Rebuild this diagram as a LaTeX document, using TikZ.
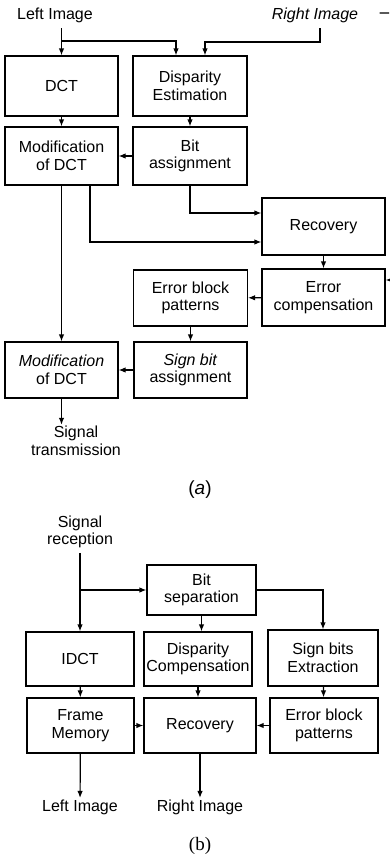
\documentclass[tikz,border=0pt]{standalone}
\usepackage{fontspec}
\setmainfont{Liberation Sans}
\newfontfamily\serfont{Liberation Serif}
\usetikzlibrary{arrows.meta}
\tikzset{block/.style = {draw, fill=white, line width=1.2bp, rectangle, align=center, inner sep=0pt, minimum height=57bp, minimum width=113bp},
         txt/.style = {align=center, inner sep=1bp},
         captxt/.style = {inner sep=1bp, font=\fontsize{19bp}{21bp}\selectfont},
         >={Latex[length=7bp,width=5.5bp]}}

\begin{document}
\begin{tikzpicture}[x=1bp,y=-1bp,line width=1.2bp,font=\fontsize{16bp}{17.5bp}\selectfont]
        \useasboundingbox (0,0) rectangle (389,856);

        % (a) coder
        \node[txt] (lefti) at (55,15) {Left Image};
        \node[txt] (righti) at (315,15) {\textit{Right Image}};
        \coordinate (rcut) at (389,13);

        \node[block, minimum height=60bp] (dct) at (61.5,86) {DCT};
        \node[block, minimum width=114bp, minimum height=60bp] (dispest) at (190,86) {Disparity\\Estimation};
        \node[block, minimum height=58bp] (mod1) at (61.5,156) {Modification\\of DCT};
        \node[block, minimum width=114bp, minimum height=58bp] (bit) at (190,156) {Bit\\assignment};
        \node[block, minimum width=123bp] (rec) at (323.5,226.5) {Recovery};
        \node[block, minimum width=123bp] (errc) at (323.5,297.5) {Error\\compensation};
        \node[block, minimum width=114bp, minimum height=56bp] (ebp) at (190.5,298) {Error block\\patterns};
        \node[block, minimum height=56bp] (sba) at (190.5,370) {\textit{Sign bit}\\assignment};
        \node[block, minimum height=56bp] (mod2) at (61.5,370) {\textit{Modification}\\of DCT};
        \node[txt] (tx) at (76,441) {Signal\\transmission};
        \coordinate (ecut) at (389,280);
        \coordinate (br1) at (61.5,41);

        \draw ([yshift=-4bp]lefti.south -| dct.north) -- (br1);
        \draw[->] (br1) -- (dct);
        \draw[->] (br1) -| ([xshift=-14bp]dispest.north);
        \draw[->] ([xshift=5bp,yshift=-4bp]righti.south) -- ++(0,14) -| ([xshift=15bp]dispest.north);
        \draw ([xshift=20bp,yshift=2bp]righti.east) -- (rcut);
        \draw[->] (dct) -- (mod1);
        \draw[->] (dispest) -- (bit);
        \draw[->] (bit) -- (mod1);
        \draw[->] (mod1) -- (mod2);
        \draw[->] ([xshift=28.5bp]mod1.south) |- ([yshift=-15.5bp]rec.west);
        \draw[->] (bit) |- ([yshift=13.5bp]rec.west);
        \draw[->] (rec) -- (errc);
        \draw[->] (ecut) -- (errc.east |- ecut);
        \draw[->] (errc) -- (ebp);
        \draw[->] (ebp) -- (sba);
        \draw[->] (sba) -- (mod2);
        \draw[->] (mod2) -- (mod2.south |- tx.north);

        \node[captxt] (capa) at (200,490) {(\textit{a})};

        % (b) decoder
        \node[txt] (rx) at (80,532) {Signal\\reception};
        \node[block, minimum width=109bp, minimum height=50bp] (bitsep) at (201.5,590) {Bit\\separation};
        \node[block, minimum width=108bp, minimum height=54bp] (idct) at (80,659) {IDCT};
        \node[block, minimum width=108bp, minimum height=54bp] (dcomp) at (198,659) {Disparity\\Compensation};
        \node[block, minimum width=110bp, minimum height=56bp] (sbe) at (323,658) {Sign bits\\Extraction};
        \node[block, minimum width=107bp, minimum height=55bp] (fm) at (80.5,725.5) {Frame\\Memory};
        \node[block, minimum width=112bp, minimum height=55bp] (rec2) at (200,725.5) {Recovery};
        \node[block, minimum width=108bp, minimum height=55bp] (ebp2) at (324,725.5) {Error block\\patterns};
        \node[txt] (lefto) at (80,807) {Left Image};
        \node[txt] (righto) at (200,807) {Right Image};
        \coordinate (br2) at (80,590);

        \draw ([yshift=-3bp]rx.south) -- (br2);
        \draw[->] (br2) -- (idct);
        \draw[->] (br2) -- (bitsep);
        \draw[->] (bitsep) -| (sbe);
        \draw[->] (bitsep) -- (bitsep |- dcomp.north);
        \draw[->] (idct) -- (fm);
        \draw[->] (dcomp) -- (dcomp |- rec2.north);
        \draw[->] (sbe) -- (ebp2);
        \draw[->] (fm) -- (rec2);
        \draw[->] (ebp2) -- (rec2);
        \draw[->] (fm) -- (lefto);
        \draw[->] (rec2) -- (righto);

        \node[captxt] (capb) at (200,846) {\serfont (b)};
\end{tikzpicture}
\end{document}
